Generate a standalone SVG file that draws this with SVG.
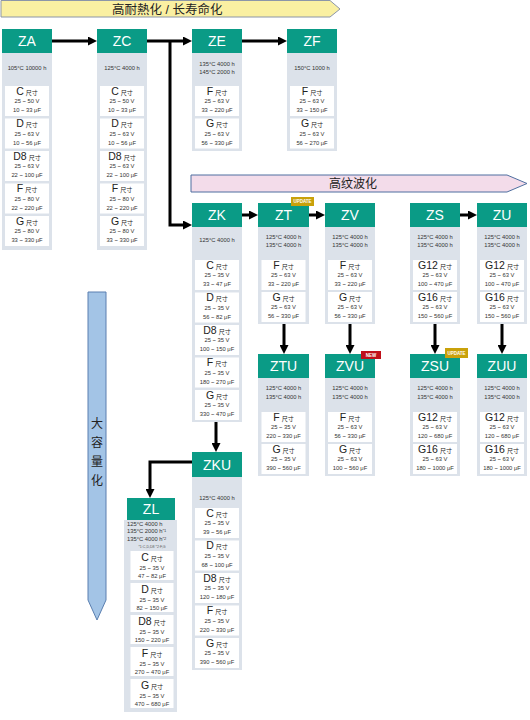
<svg xmlns="http://www.w3.org/2000/svg" width="530" height="720" viewBox="0 0 530 720">
<defs>
<marker id="ah" markerUnits="userSpaceOnUse" markerWidth="9" markerHeight="9" refX="3" refY="4.5" orient="auto"><path d="M0,0 L9,4.5 L0,9 z" fill="#000"/></marker>
<style>
text{font-family:"Liberation Sans","Noto Sans CJK SC",sans-serif}
.hd{fill:#0a9b86}
.bd{fill:#dce2ea}
.bx{fill:#ffffff}
.ht{font-size:14px;fill:#ffffff;text-anchor:middle}
.tp{font-size:5.8px;fill:#333333;text-anchor:middle}
.tl{font-size:5.8px;fill:#333333;text-anchor:start}
.lb{font-size:10.5px;fill:#222222;text-anchor:middle}
.sz{font-size:6px}
.vl{font-size:5.8px;fill:#333333;text-anchor:middle}
.cn{fill:none;stroke:#000;stroke-width:3;marker-end:url(#ah)}
.bt{font-size:4.5px;font-weight:bold;fill:#ffffff;text-anchor:middle}
</style>
</defs>
<rect width="530" height="720" fill="#ffffff"/>

<g id="banner-heat">
<polygon points="1,0.5 330,0.5 340,9 330,17 1,17" fill="#faf0a2" stroke="#8c96a8" stroke-width="1"/>
<text x="112" y="14" font-size="12.5" fill="#222">高耐熱化 / 长寿命化</text>
</g>
<g id="banner-ripple">
<polygon points="191,175 507,175 527,183.5 507,192 191,192" fill="#f3dcea" stroke="#4f6fa0" stroke-width="1"/>
<text x="353" y="188" font-size="12" fill="#222" text-anchor="middle">高纹波化</text>
</g>
<g id="banner-capacity">
<polygon points="88,292 106,292 106,600 97,620 88,600" fill="#a3c4e6" stroke="#5a7fb0" stroke-width="1"/>
<text x="97" y="428" font-size="12" fill="#222" text-anchor="middle">大</text>
<text x="97" y="447" font-size="12" fill="#222" text-anchor="middle">容</text>
<text x="97" y="466" font-size="12" fill="#222" text-anchor="middle">量</text>
<text x="97" y="485" font-size="12" fill="#222" text-anchor="middle">化</text>
</g>

<g id="connectors">
<path class="cn" d="M52,41 H91"/>
<path class="cn" d="M147,41 H186"/>
<path class="cn" d="M170,41 V225 H186"/>
<path class="cn" d="M241,41 H281"/>
<path class="cn" d="M241,215 H252"/>
<path class="cn" d="M308,215 H319"/>
<path class="cn" d="M459,215 H471"/>
<path class="cn" d="M284,324 V348"/>
<path class="cn" d="M350,324 V348"/>
<path class="cn" d="M435,324 V348"/>
<path class="cn" d="M502,324 V348"/>
<path class="cn" d="M216,422 V446"/>
<path class="cn" d="M192,462 H150 V492"/>
</g>

<g id="ZA">
<rect class="bd" x="2" y="53" width="50" height="197"/>
<rect class="hd" x="2" y="29" width="50" height="24"/>
<text class="ht" x="27" y="46">ZA</text>
<text class="tp" x="27" y="70">105°C 10000 h</text>
<rect class="bx" x="5" y="86" width="44" height="30"/>
<text class="lb" x="27" y="94.5">C<tspan class="sz" dx="2">尺寸</tspan></text>
<text class="vl" x="27" y="103">25 ~ 50 V</text>
<text class="vl" x="27" y="112">10 ~ 33 μF</text>
<rect class="bx" x="5" y="118.5" width="44" height="30"/>
<text class="lb" x="27" y="127">D<tspan class="sz" dx="2">尺寸</tspan></text>
<text class="vl" x="27" y="135.5">25 ~ 63 V</text>
<text class="vl" x="27" y="144.5">10 ~ 56 μF</text>
<rect class="bx" x="5" y="151" width="44" height="30"/>
<text class="lb" x="27" y="159.5">D8<tspan class="sz" dx="2">尺寸</tspan></text>
<text class="vl" x="27" y="168">25 ~ 63 V</text>
<text class="vl" x="27" y="177">22 ~ 100 μF</text>
<rect class="bx" x="5" y="183.5" width="44" height="30"/>
<text class="lb" x="27" y="192">F<tspan class="sz" dx="2">尺寸</tspan></text>
<text class="vl" x="27" y="200.5">25 ~ 80 V</text>
<text class="vl" x="27" y="209.5">22 ~ 220 μF</text>
<rect class="bx" x="5" y="216" width="44" height="30"/>
<text class="lb" x="27" y="224.5">G<tspan class="sz" dx="2">尺寸</tspan></text>
<text class="vl" x="27" y="233">25 ~ 80 V</text>
<text class="vl" x="27" y="242">33 ~ 330 μF</text>
</g>

<g id="ZC">
<rect class="bd" x="97" y="53" width="50" height="197"/>
<rect class="hd" x="97" y="29" width="50" height="24"/>
<text class="ht" x="122" y="46">ZC</text>
<text class="tp" x="122" y="70">125°C 4000 h</text>
<rect class="bx" x="100" y="86" width="44" height="30"/>
<text class="lb" x="122" y="94.5">C<tspan class="sz" dx="2">尺寸</tspan></text>
<text class="vl" x="122" y="103">25 ~ 50 V</text>
<text class="vl" x="122" y="112">10 ~ 33 μF</text>
<rect class="bx" x="100" y="118.5" width="44" height="30"/>
<text class="lb" x="122" y="127">D<tspan class="sz" dx="2">尺寸</tspan></text>
<text class="vl" x="122" y="135.5">25 ~ 63 V</text>
<text class="vl" x="122" y="144.5">10 ~ 56 μF</text>
<rect class="bx" x="100" y="151" width="44" height="30"/>
<text class="lb" x="122" y="159.5">D8<tspan class="sz" dx="2">尺寸</tspan></text>
<text class="vl" x="122" y="168">25 ~ 63 V</text>
<text class="vl" x="122" y="177">22 ~ 100 μF</text>
<rect class="bx" x="100" y="183.5" width="44" height="30"/>
<text class="lb" x="122" y="192">F<tspan class="sz" dx="2">尺寸</tspan></text>
<text class="vl" x="122" y="200.5">25 ~ 80 V</text>
<text class="vl" x="122" y="209.5">22 ~ 220 μF</text>
<rect class="bx" x="100" y="216" width="44" height="30"/>
<text class="lb" x="122" y="224.5">G<tspan class="sz" dx="2">尺寸</tspan></text>
<text class="vl" x="122" y="233">25 ~ 80 V</text>
<text class="vl" x="122" y="242">33 ~ 330 μF</text>
</g>

<g id="ZE">
<rect class="bd" x="192" y="53" width="50" height="98"/>
<rect class="hd" x="192" y="29" width="50" height="24"/>
<text class="ht" x="217" y="46">ZE</text>
<text class="tp" x="217" y="66">135°C 4000 h</text>
<text class="tp" x="217" y="74">145°C 2000 h</text>
<rect class="bx" x="195" y="86" width="44" height="30"/>
<text class="lb" x="217" y="94.5">F<tspan class="sz" dx="2">尺寸</tspan></text>
<text class="vl" x="217" y="103">25 ~ 63 V</text>
<text class="vl" x="217" y="112">33 ~ 220 μF</text>
<rect class="bx" x="195" y="118.5" width="44" height="30"/>
<text class="lb" x="217" y="127">G<tspan class="sz" dx="2">尺寸</tspan></text>
<text class="vl" x="217" y="135.5">25 ~ 63 V</text>
<text class="vl" x="217" y="144.5">56 ~ 330 μF</text>
</g>

<g id="ZF">
<rect class="bd" x="287" y="53" width="50" height="98"/>
<rect class="hd" x="287" y="29" width="50" height="24"/>
<text class="ht" x="312" y="46">ZF</text>
<text class="tp" x="312" y="70">150°C 1000 h</text>
<rect class="bx" x="290" y="86" width="44" height="30"/>
<text class="lb" x="312" y="94.5">F<tspan class="sz" dx="2">尺寸</tspan></text>
<text class="vl" x="312" y="103">25 ~ 63 V</text>
<text class="vl" x="312" y="112">33 ~ 150 μF</text>
<rect class="bx" x="290" y="118.5" width="44" height="30"/>
<text class="lb" x="312" y="127">G<tspan class="sz" dx="2">尺寸</tspan></text>
<text class="vl" x="312" y="135.5">25 ~ 63 V</text>
<text class="vl" x="312" y="144.5">56 ~ 270 μF</text>
</g>

<g id="ZK">
<rect class="bd" x="192" y="227" width="50" height="195"/>
<rect class="hd" x="192" y="203" width="50" height="24"/>
<text class="ht" x="217" y="220">ZK</text>
<text class="tp" x="217" y="242">125°C 4000 h</text>
<rect class="bx" x="195" y="260" width="44" height="30"/>
<text class="lb" x="217" y="268.5">C<tspan class="sz" dx="2">尺寸</tspan></text>
<text class="vl" x="217" y="277">25 ~ 35 V</text>
<text class="vl" x="217" y="286">33 ~ 47 μF</text>
<rect class="bx" x="195" y="292.5" width="44" height="30"/>
<text class="lb" x="217" y="301">D<tspan class="sz" dx="2">尺寸</tspan></text>
<text class="vl" x="217" y="309.5">25 ~ 35 V</text>
<text class="vl" x="217" y="318.5">56 ~ 82 μF</text>
<rect class="bx" x="195" y="325" width="44" height="30"/>
<text class="lb" x="217" y="333.5">D8<tspan class="sz" dx="2">尺寸</tspan></text>
<text class="vl" x="217" y="342">25 ~ 35 V</text>
<text class="vl" x="217" y="351">100 ~ 150 μF</text>
<rect class="bx" x="195" y="357.5" width="44" height="30"/>
<text class="lb" x="217" y="366">F<tspan class="sz" dx="2">尺寸</tspan></text>
<text class="vl" x="217" y="374.5">25 ~ 35 V</text>
<text class="vl" x="217" y="383.5">180 ~ 270 μF</text>
<rect class="bx" x="195" y="390" width="44" height="30"/>
<text class="lb" x="217" y="398.5">G<tspan class="sz" dx="2">尺寸</tspan></text>
<text class="vl" x="217" y="407">25 ~ 35 V</text>
<text class="vl" x="217" y="416">330 ~ 470 μF</text>
</g>

<g id="ZT">
<rect class="bd" x="258" y="227" width="51" height="97"/>
<rect class="hd" x="258" y="203" width="51" height="24"/>
<text class="ht" x="283.5" y="220">ZT</text>
<rect x="291" y="197" width="23" height="9" fill="#c9a10a"/>
<text class="bt" x="302.5" y="203.3">UPDATE</text>
<text class="tp" x="283.5" y="239">125°C 4000 h</text>
<text class="tp" x="283.5" y="247">135°C 4000 h</text>
<rect class="bx" x="261.5" y="260" width="44" height="30"/>
<text class="lb" x="283.5" y="268.5">F<tspan class="sz" dx="2">尺寸</tspan></text>
<text class="vl" x="283.5" y="277">25 ~ 63 V</text>
<text class="vl" x="283.5" y="286">33 ~ 220 μF</text>
<rect class="bx" x="261.5" y="292" width="44" height="30"/>
<text class="lb" x="283.5" y="300.5">G<tspan class="sz" dx="2">尺寸</tspan></text>
<text class="vl" x="283.5" y="309">25 ~ 63 V</text>
<text class="vl" x="283.5" y="318">56 ~ 330 μF</text>
</g>

<g id="ZV">
<rect class="bd" x="325" y="227" width="50" height="97"/>
<rect class="hd" x="325" y="203" width="50" height="24"/>
<text class="ht" x="350" y="220">ZV</text>
<text class="tp" x="350" y="239">125°C 4000 h</text>
<text class="tp" x="350" y="247">135°C 4000 h</text>
<rect class="bx" x="328" y="260" width="44" height="30"/>
<text class="lb" x="350" y="268.5">F<tspan class="sz" dx="2">尺寸</tspan></text>
<text class="vl" x="350" y="277">25 ~ 63 V</text>
<text class="vl" x="350" y="286">33 ~ 220 μF</text>
<rect class="bx" x="328" y="292" width="44" height="30"/>
<text class="lb" x="350" y="300.5">G<tspan class="sz" dx="2">尺寸</tspan></text>
<text class="vl" x="350" y="309">25 ~ 63 V</text>
<text class="vl" x="350" y="318">56 ~ 330 μF</text>
</g>

<g id="ZS">
<rect class="bd" x="410" y="227" width="50" height="97"/>
<rect class="hd" x="410" y="203" width="50" height="24"/>
<text class="ht" x="435" y="220">ZS</text>
<text class="tp" x="435" y="239">125°C 4000 h</text>
<text class="tp" x="435" y="247">135°C 4000 h</text>
<rect class="bx" x="413" y="260" width="44" height="30"/>
<text class="lb" x="435" y="268.5">G12<tspan class="sz" dx="2">尺寸</tspan></text>
<text class="vl" x="435" y="277">25 ~ 63 V</text>
<text class="vl" x="435" y="286">100 ~ 470 μF</text>
<rect class="bx" x="413" y="292" width="44" height="30"/>
<text class="lb" x="435" y="300.5">G16<tspan class="sz" dx="2">尺寸</tspan></text>
<text class="vl" x="435" y="309">25 ~ 63 V</text>
<text class="vl" x="435" y="318">150 ~ 560 μF</text>
</g>

<g id="ZU">
<rect class="bd" x="477" y="227" width="50" height="97"/>
<rect class="hd" x="477" y="203" width="50" height="24"/>
<text class="ht" x="502" y="220">ZU</text>
<text class="tp" x="502" y="239">125°C 4000 h</text>
<text class="tp" x="502" y="247">135°C 4000 h</text>
<rect class="bx" x="480" y="260" width="44" height="30"/>
<text class="lb" x="502" y="268.5">G12<tspan class="sz" dx="2">尺寸</tspan></text>
<text class="vl" x="502" y="277">25 ~ 63 V</text>
<text class="vl" x="502" y="286">100 ~ 470 μF</text>
<rect class="bx" x="480" y="292" width="44" height="30"/>
<text class="lb" x="502" y="300.5">G16<tspan class="sz" dx="2">尺寸</tspan></text>
<text class="vl" x="502" y="309">25 ~ 63 V</text>
<text class="vl" x="502" y="318">150 ~ 560 μF</text>
</g>

<g id="ZTU">
<rect class="bd" x="258" y="378" width="51" height="98"/>
<rect class="hd" x="258" y="354" width="51" height="24"/>
<text class="ht" x="283.5" y="371">ZTU</text>
<text class="tp" x="283.5" y="390">125°C 4000 h</text>
<text class="tp" x="283.5" y="399">135°C 4000 h</text>
<rect class="bx" x="261.5" y="412" width="44" height="30"/>
<text class="lb" x="283.5" y="420.5">F<tspan class="sz" dx="2">尺寸</tspan></text>
<text class="vl" x="283.5" y="429">25 ~ 35 V</text>
<text class="vl" x="283.5" y="438">220 ~ 330 μF</text>
<rect class="bx" x="261.5" y="444" width="44" height="30"/>
<text class="lb" x="283.5" y="452.5">G<tspan class="sz" dx="2">尺寸</tspan></text>
<text class="vl" x="283.5" y="461">25 ~ 35 V</text>
<text class="vl" x="283.5" y="470">390 ~ 560 μF</text>
</g>

<g id="ZVU">
<rect class="bd" x="325" y="378" width="50" height="98"/>
<rect class="hd" x="325" y="354" width="50" height="24"/>
<text class="ht" x="350" y="371">ZVU</text>
<rect x="361" y="351" width="20" height="8" fill="#c0101a"/>
<text class="bt" x="371" y="356.8">NEW</text>
<text class="tp" x="350" y="390">125°C 4000 h</text>
<text class="tp" x="350" y="399">135°C 4000 h</text>
<rect class="bx" x="328" y="412" width="44" height="30"/>
<text class="lb" x="350" y="420.5">F<tspan class="sz" dx="2">尺寸</tspan></text>
<text class="vl" x="350" y="429">25 ~ 63 V</text>
<text class="vl" x="350" y="438">56 ~ 330 μF</text>
<rect class="bx" x="328" y="444" width="44" height="30"/>
<text class="lb" x="350" y="452.5">G<tspan class="sz" dx="2">尺寸</tspan></text>
<text class="vl" x="350" y="461">25 ~ 63 V</text>
<text class="vl" x="350" y="470">100 ~ 560 μF</text>
</g>

<g id="ZSU">
<rect class="bd" x="410" y="378" width="50" height="98"/>
<rect class="hd" x="410" y="354" width="50" height="24"/>
<text class="ht" x="435" y="371">ZSU</text>
<rect x="445" y="348" width="23" height="10" fill="#c9a10a"/>
<text class="bt" x="456.5" y="354.8">UPDATE</text>
<text class="tp" x="435" y="390">125°C 4000 h</text>
<text class="tp" x="435" y="399">135°C 4000 h</text>
<rect class="bx" x="413" y="412" width="44" height="30"/>
<text class="lb" x="435" y="420.5">G12<tspan class="sz" dx="2">尺寸</tspan></text>
<text class="vl" x="435" y="429">25 ~ 63 V</text>
<text class="vl" x="435" y="438">120 ~ 680 μF</text>
<rect class="bx" x="413" y="444" width="44" height="30"/>
<text class="lb" x="435" y="452.5">G16<tspan class="sz" dx="2">尺寸</tspan></text>
<text class="vl" x="435" y="461">25 ~ 63 V</text>
<text class="vl" x="435" y="470">180 ~ 1000 μF</text>
</g>

<g id="ZUU">
<rect class="bd" x="477" y="378" width="50" height="98"/>
<rect class="hd" x="477" y="354" width="50" height="24"/>
<text class="ht" x="502" y="371">ZUU</text>
<text class="tp" x="502" y="390">125°C 4000 h</text>
<text class="tp" x="502" y="399">135°C 4000 h</text>
<rect class="bx" x="480" y="412" width="44" height="30"/>
<text class="lb" x="502" y="420.5">G12<tspan class="sz" dx="2">尺寸</tspan></text>
<text class="vl" x="502" y="429">25 ~ 63 V</text>
<text class="vl" x="502" y="438">120 ~ 680 μF</text>
<rect class="bx" x="480" y="444" width="44" height="30"/>
<text class="lb" x="502" y="452.5">G16<tspan class="sz" dx="2">尺寸</tspan></text>
<text class="vl" x="502" y="461">25 ~ 63 V</text>
<text class="vl" x="502" y="470">180 ~ 1000 μF</text>
</g>

<g id="ZKU">
<rect class="bd" x="192" y="477" width="50" height="193"/>
<rect class="hd" x="192" y="452" width="50" height="25"/>
<text class="ht" x="217" y="470">ZKU</text>
<text class="tp" x="217" y="500">125°C 4000 h</text>
<rect class="bx" x="195" y="508" width="44" height="30"/>
<text class="lb" x="217" y="516.5">C<tspan class="sz" dx="2">尺寸</tspan></text>
<text class="vl" x="217" y="525">25 ~ 35 V</text>
<text class="vl" x="217" y="534">39 ~ 56 μF</text>
<rect class="bx" x="195" y="540.5" width="44" height="30"/>
<text class="lb" x="217" y="549">D<tspan class="sz" dx="2">尺寸</tspan></text>
<text class="vl" x="217" y="557.5">25 ~ 35 V</text>
<text class="vl" x="217" y="566.5">68 ~ 100 μF</text>
<rect class="bx" x="195" y="573" width="44" height="30"/>
<text class="lb" x="217" y="581.5">D8<tspan class="sz" dx="2">尺寸</tspan></text>
<text class="vl" x="217" y="590">25 ~ 35 V</text>
<text class="vl" x="217" y="599">120 ~ 180 μF</text>
<rect class="bx" x="195" y="605.5" width="44" height="30"/>
<text class="lb" x="217" y="614">F<tspan class="sz" dx="2">尺寸</tspan></text>
<text class="vl" x="217" y="622.5">25 ~ 35 V</text>
<text class="vl" x="217" y="631.5">220 ~ 330 μF</text>
<rect class="bx" x="195" y="638" width="44" height="30"/>
<text class="lb" x="217" y="646.5">G<tspan class="sz" dx="2">尺寸</tspan></text>
<text class="vl" x="217" y="655">25 ~ 35 V</text>
<text class="vl" x="217" y="664">390 ~ 560 μF</text>
</g>

<g id="ZL">
<rect class="bd" x="124" y="520" width="53" height="192"/>
<rect class="hd" x="127" y="498" width="48" height="22"/>
<text class="ht" x="151" y="514">ZL</text>
<text class="tl" x="127" y="526">125°C 4000 h</text>
<text class="tl" x="127" y="533">135°C 2000 h<tspan font-size="4" dy="-1.5">*1</tspan></text>
<text class="tl" x="127" y="541">135°C 4000 h<tspan font-size="4" dy="-1.5">*2</tspan></text>
<text x="152" y="548" font-size="3.6" fill="#555" text-anchor="middle">*1:C,D,D8  *2:F,G</text>
<rect class="bx" x="130.5" y="551" width="43" height="29"/>
<text class="lb" x="152" y="561">C<tspan class="sz" dx="2">尺寸</tspan></text>
<text class="vl" x="152" y="569.5">25 ~ 35 V</text>
<text class="vl" x="152" y="578">47 ~ 82 μF</text>
<rect class="bx" x="130.5" y="583" width="43" height="29"/>
<text class="lb" x="152" y="593">D<tspan class="sz" dx="2">尺寸</tspan></text>
<text class="vl" x="152" y="601.5">25 ~ 35 V</text>
<text class="vl" x="152" y="610">82 ~ 150 μF</text>
<rect class="bx" x="130.5" y="615" width="43" height="29"/>
<text class="lb" x="152" y="625">D8<tspan class="sz" dx="2">尺寸</tspan></text>
<text class="vl" x="152" y="633.5">25 ~ 35 V</text>
<text class="vl" x="152" y="642">150 ~ 220 μF</text>
<rect class="bx" x="130.5" y="647" width="43" height="29"/>
<text class="lb" x="152" y="657">F<tspan class="sz" dx="2">尺寸</tspan></text>
<text class="vl" x="152" y="665.5">25 ~ 35 V</text>
<text class="vl" x="152" y="674">270 ~ 470 μF</text>
<rect class="bx" x="130.5" y="679" width="43" height="29"/>
<text class="lb" x="152" y="689">G<tspan class="sz" dx="2">尺寸</tspan></text>
<text class="vl" x="152" y="697.5">25 ~ 35 V</text>
<text class="vl" x="152" y="706">470 ~ 680 μF</text>
</g>
</svg>
